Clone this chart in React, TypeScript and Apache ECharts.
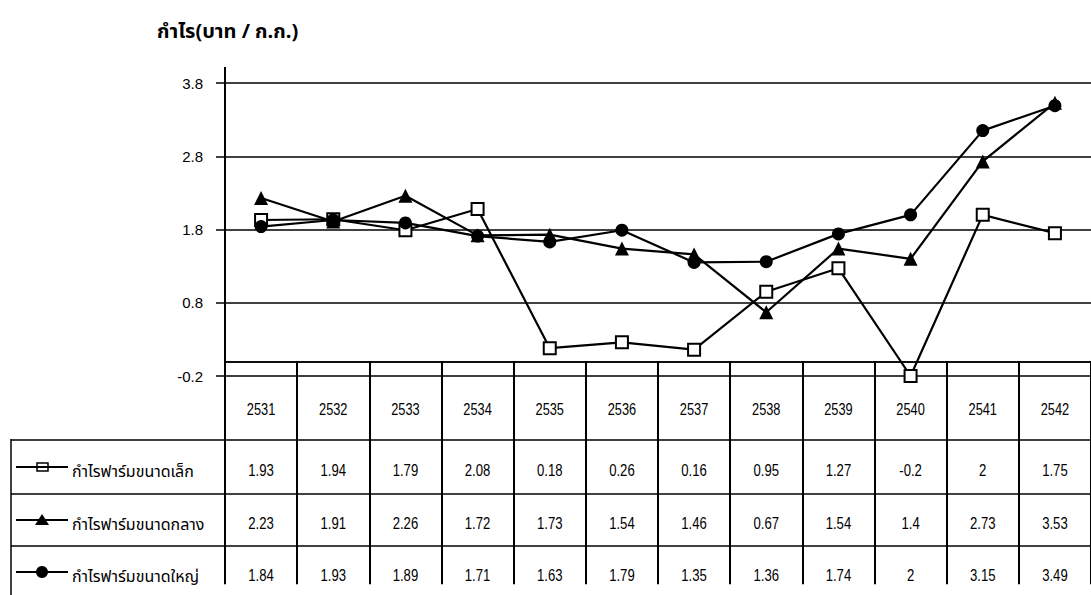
import React, { useEffect, useRef } from "react";
import * as echarts from "echarts";

const years = ["2531", "2532", "2533", "2534", "2535", "2536", "2537", "2538", "2539", "2540", "2541", "2542"];
const smallFarm = [1.93, 1.94, 1.79, 2.08, 0.18, 0.26, 0.16, 0.95, 1.27, -0.2, 2, 1.75];
const mediumFarm = [2.23, 1.91, 2.26, 1.72, 1.73, 1.54, 1.46, 0.67, 1.54, 1.4, 2.73, 3.53];
const largeFarm = [1.84, 1.93, 1.89, 1.71, 1.63, 1.79, 1.35, 1.36, 1.74, 2, 3.15, 3.49];
const seriesNames = ["กำไรฟาร์มขนาดเล็ก", "กำไรฟาร์มขนาดกลาง", "กำไรฟาร์มขนาดใหญ่"];
const tableLabels = [
  ["1.93", "1.94", "1.79", "2.08", "0.18", "0.26", "0.16", "0.95", "1.27", "-0.2", "2", "1.75"],
  ["2.23", "1.91", "2.26", "1.72", "1.73", "1.54", "1.46", "0.67", "1.54", "1.4", "2.73", "3.53"],
  ["1.84", "1.93", "1.89", "1.71", "1.63", "1.79", "1.35", "1.36", "1.74", "2", "3.15", "3.49"],
];
const yTitle = "กำไร(บาท / ก.ก.)";

const THAI = "'Noto Sans Thai', 'Noto Sans Thai UI', Loma, Garuda, Tahoma, 'DejaVu Sans', sans-serif";
const NUM = "'Liberation Sans', Arial, sans-serif";

export default function App() {
  const ref = useRef<HTMLDivElement>(null);
  useEffect(() => {
    if (!ref.current) return;
    const chart = echarts.init(ref.current, undefined, { renderer: "svg" });
    const gridLeft = 225;
    const gridTop = 83;
    const gridBottomY = 376;
    const rowLines = [440, 494, 546];
    const rowCenters = [467, 520, 572];
    const black = "#000";
    const lineSeries = (name: string, data: number[], symbol: string, size: number, fill: string) => ({
      name,
      type: "line",
      data,
      symbol,
      symbolSize: size,
      showAllSymbol: true,
      lineStyle: { color: black, width: 2.2 },
      itemStyle: { color: fill, borderColor: black, borderWidth: fill === "#fff" ? 2 : 0 },
      z: 3,
    });
    chart.setOption({
      animation: false,
      backgroundColor: "#fff",
      grid: { left: gridLeft, top: gridTop, right: -11, bottom: 595 - gridBottomY },
      xAxis: {
        type: "category",
        data: years,
        boundaryGap: true,
        axisLine: { show: true, lineStyle: { color: black, width: 1.5 } },
        axisTick: { show: true, length: 223, interval: 0, lineStyle: { color: black, width: 2 } },
        axisLabel: { show: false },
        splitLine: { show: false },
      },
      yAxis: {
        type: "value",
        min: -0.2,
        max: 3.8,
        interval: 1,
        axisLine: { show: true, lineStyle: { color: black, width: 2 } },
        axisTick: { show: true, length: 9, lineStyle: { color: black, width: 1.5 } },
        axisLabel: {
          margin: 22,
          fontSize: 15,
          fontFamily: NUM,
          color: black,
          formatter: (v: number) => Number(v).toFixed(1),
        },
        splitLine: { show: true, lineStyle: { color: black, width: 1.5 } },
      },
      series: [
        {
          ...lineSeries(seriesNames[0], smallFarm, "rect", 12, "#fff"),
          markLine: {
            silent: true,
            symbol: "none",
            label: { show: false },
            lineStyle: { color: black, width: 1.5, type: "solid" },
            data: [{ yAxis: 0 }],
          },
        },
        lineSeries(seriesNames[1], mediumFarm, "triangle", 14, black),
        lineSeries(seriesNames[2], largeFarm, "circle", 13, black),
      ],
    });

    const centers = years.map((_, i) => (chart.convertToPixel({ xAxisIndex: 0 }, i) as number));
    const rightEdge = 1102;
    const graphics: any[] = [];
    graphics.push({
      type: "text",
      left: 157,
      top: 22,
      style: { text: yTitle, font: `bold 20px ${THAI}`, fill: black },
    });
    graphics.push({ type: "line", shape: { x1: gridLeft, y1: 67, x2: gridLeft, y2: gridTop }, style: { stroke: black, lineWidth: 2 } });
    rowLines.forEach((y) =>
      graphics.push({ type: "line", shape: { x1: 11, y1: y, x2: rightEdge, y2: y }, style: { stroke: black, lineWidth: 1.5 } })
    );
    graphics.push({ type: "line", shape: { x1: 11, y1: 439, x2: 11, y2: 600 }, style: { stroke: black, lineWidth: 1.5 } });
    years.forEach((t, i) => {
      graphics.push({
        type: "text",
        x: centers[i],
        y: 409,
        scaleX: 0.8,
        style: { text: t, font: `16px ${NUM}`, fill: black, align: "center", verticalAlign: "middle" },
      });
    });
    const markers = ["rect", "triangle", "circle"];
    rowCenters.forEach((cy, r) => {
      graphics.push({ type: "line", shape: { x1: 16, y1: cy, x2: 68, y2: cy }, style: { stroke: black, lineWidth: 2 } });
      if (markers[r] === "rect") {
        graphics.push({ type: "rect", shape: { x: 37, y: cy - 4, width: 11, height: 8 }, style: { fill: "none", stroke: black, lineWidth: 1.5 } });
      } else if (markers[r] === "triangle") {
        graphics.push({ type: "polygon", shape: { points: [[42, cy - 6], [35, cy + 5], [49, cy + 5]] }, style: { fill: black } });
      } else {
        graphics.push({ type: "circle", shape: { cx: 42, cy, r: 6 }, style: { fill: black } });
      }
      graphics.push({
        type: "text",
        x: 72,
        y: cy + 5,
        style: { text: seriesNames[r], font: `16px ${THAI}`, fill: black, verticalAlign: "middle" },
      });
      tableLabels[r].forEach((t, i) => {
        graphics.push({
          type: "text",
          x: centers[i],
          y: cy + 4,
          scaleX: 0.82,
          style: { text: t, font: `16px ${NUM}`, fill: black, align: "center", verticalAlign: "middle" },
        });
      });
    });
    chart.setOption({ graphic: graphics });
    return () => chart.dispose();
  }, []);
  return (
    <div
      ref={ref}
      style={{ position: "fixed", left: 0, top: 0, width: 1091, height: 595, background: "#fff" }}
    />
  );
}
